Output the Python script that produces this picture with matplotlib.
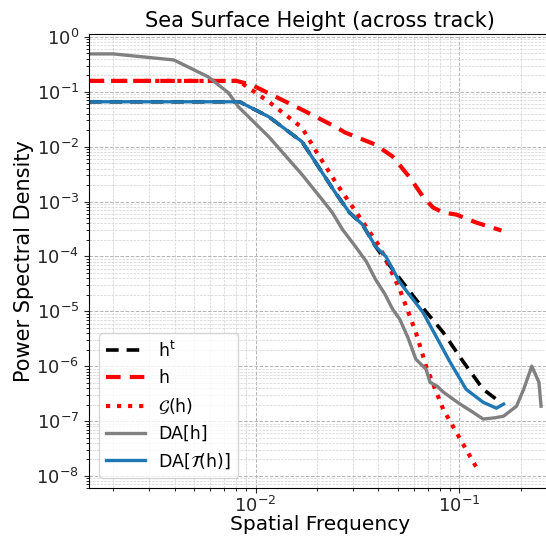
"""
Power spectral density of sea surface height (across track).
"""

import matplotlib
matplotlib.use("Agg")
import matplotlib.pyplot as plt
import numpy as np
from matplotlib.ticker import LogLocator, NullFormatter

# Truth h^t
truth_freq = [1.52e-3, 8.33e-3, 0.0116, 0.0169, 0.0246, 0.0289, 0.0335, 0.0388,
              0.0421, 0.0471, 0.0612, 0.0833, 0.105, 0.131, 0.152]
truth_psd = [0.0658, 0.0658, 0.0351, 0.0123, 1.46e-3, 6.3e-4, 3.8e-4, 1.52e-4,
             1.0e-4, 5.8e-5, 1.65e-5, 4.15e-6, 1.18e-6, 3.8e-7, 2.5e-7]

# Observation h
obs_freq = [1.52e-3, 8.05e-3, 9.55e-3, 0.0169, 0.0246, 0.0276, 0.0388, 0.0421,
            0.0471, 0.0572, 0.0663, 0.0743, 0.0833, 0.0966, 0.121, 0.161]
obs_psd = [0.158, 0.158, 0.134, 0.0471, 0.0231, 0.018, 0.0109, 8.8e-3,
           6.6e-3, 2.73e-3, 1.23e-3, 7.8e-4, 6.3e-4, 5.8e-4, 4.15e-4, 2.97e-4]

# Filtered G(h)
filt_freq = [1.52e-3, 8.24e-3, 0.0116, 0.0169, 0.0196, 0.0252, 0.0323, 0.0406,
             0.0510, 0.0612, 0.0687, 0.0833, 0.101, 0.121]
filt_psd = [0.158, 0.158, 0.0658, 0.0222, 8.8e-3, 2.0e-3, 5.3e-4, 1.52e-4,
            2.5e-5, 4.15e-6, 1.0e-6, 1.65e-7, 4.7e-8, 1.46e-8]

# DA[h]
da_freq = [1.52e-3, 2.0e-3, 3.97e-3, 5.85e-3, 7.35e-3, 8.24e-3, 0.0116, 0.0169,
           0.0212, 0.0238, 0.0267, 0.0309, 0.0350, 0.0388, 0.0430, 0.0471, 0.0510,
           0.0560, 0.0612, 0.0687, 0.0718, 0.0780, 0.0833, 0.0920, 0.101, 0.115,
           0.131, 0.150, 0.165, 0.191, 0.207, 0.227, 0.246, 0.252]
da_psd = [0.49, 0.49, 0.38, 0.187, 0.096, 0.053, 0.0152, 3.1e-3,
          1.09e-3, 6.3e-4, 3.1e-4, 1.52e-4, 8.0e-5, 3.8e-5, 2.1e-5, 1.09e-5, 7.2e-6,
          3.3e-6, 1.34e-6, 8.8e-7, 5.1e-7, 4.3e-7, 3.4e-7, 2.6e-7, 2.04e-7, 1.5e-7,
          1.09e-7, 1.15e-7, 1.23e-7, 1.87e-7, 3.8e-7, 1.0e-6, 5.1e-7, 1.87e-7]

# DA[T(h)]
dat_freq = [1.52e-3, 8.33e-3, 0.0116, 0.0169, 0.0246, 0.0289, 0.0335, 0.0388,
            0.0436, 0.0510, 0.0663, 0.0902, 0.108, 0.131, 0.152, 0.165]
dat_psd = [0.0658, 0.0658, 0.0351, 0.0123, 1.46e-3, 6.3e-4, 3.8e-4, 1.52e-4,
           1.0e-4, 3.4e-5, 9.6e-6, 1.18e-6, 3.8e-7, 2.2e-7, 1.72e-7, 2.04e-7]

# labelled major ticks
xtick_values = [1e-2, 1e-1]
ytick_values = [1e-8, 1e-7, 1e-6, 1e-5, 1e-4, 1e-3, 1e-2, 1e-1, 1e0]

fig = plt.figure(figsize=(5.46, 5.43), dpi=100)
ax = fig.add_axes([0.163, 0.101, 0.845, 0.836])

ax.plot(truth_freq, truth_psd, color="black", ls="--", lw=2.6,
        dashes=(3.5, 2.2), label=r"h$^{\rm t}$")
ax.plot(obs_freq, obs_psd, color="red", ls="--", lw=3.0,
        dashes=(3.5, 2.2), label="h")
ax.plot(filt_freq, filt_psd, color="red", ls=":", lw=3.0,
        label=r"$\mathcal{G}$(h)")
ax.plot(da_freq, da_psd, color="gray", lw=2.4, label="DA[h]")
ax.plot(dat_freq, dat_psd, color="tab:blue", lw=2.4,
        label=r"DA[$\mathcal{T}$(h)]")

ax.set_xscale("log")
ax.set_yscale("log")
ax.set_xlim(1.52e-3, 0.28)
ax.set_ylim(6e-9, 1.12)

ax.set_xticks(xtick_values)
ax.set_yticks(ytick_values)
ax.yaxis.set_minor_locator(LogLocator(base=10, subs=np.arange(2, 10), numticks=100))
ax.yaxis.set_minor_formatter(NullFormatter())
ax.xaxis.set_minor_locator(LogLocator(base=10, subs=np.arange(2, 10), numticks=100))
ax.xaxis.set_minor_formatter(NullFormatter())

ax.grid(True, which="major", ls="--", color="0.7", lw=0.7)
ax.grid(True, which="minor", ls="--", color="0.82", lw=0.5)
ax.tick_params(labelsize=13, colors="0.15")
ax.tick_params(axis="x", pad=2)

ax.set_title("Sea Surface Height (across track)", fontsize=15, pad=5)
ax.set_xlabel("Spatial Frequency", fontsize=14.5, labelpad=-1)
ax.set_ylabel("Power Spectral Density", fontsize=15, labelpad=2)
ax.legend(loc="lower left", fontsize=12.5, handlelength=2.2,
          borderaxespad=0.6)

fig.savefig("out.png", dpi=100)
